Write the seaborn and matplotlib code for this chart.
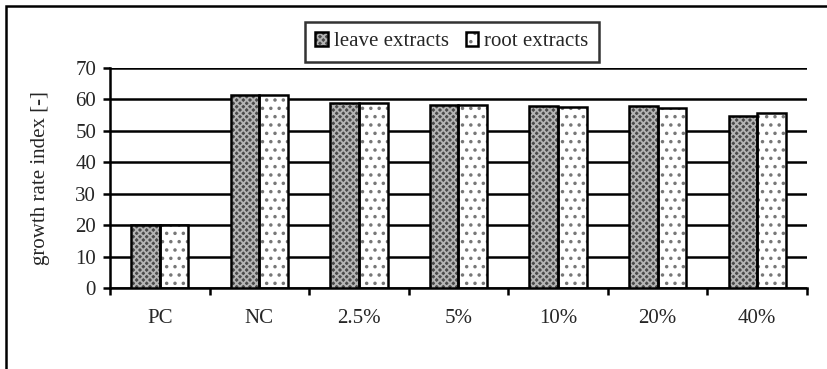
import pandas as pd
import matplotlib.pyplot as plt
import seaborn as sns
from matplotlib.patches import Rectangle, Patch
from matplotlib.legend_handler import HandlerTuple
from matplotlib.ticker import FixedLocator

categories = ["PC", "NC", "2.5%", "5%", "10%", "20%", "40%"]
leave_extracts = [20, 61.5, 59, 58.2, 58, 58, 54.8]
root_extracts = [20, 61.5, 59, 58.2, 57.5, 57.3, 55.8]
series_names = ["leave extracts", "root extracts"]

df = pd.DataFrame({
    "treatment": categories * 2,
    "value": leave_extracts + root_extracts,
    "series": [series_names[0]] * len(categories) + [series_names[1]] * len(categories),
})

sns.set_style("white")
plt.rcParams["font.family"] = ["Liberation Serif", "DejaVu Serif"]
plt.rcParams["font.size"] = 15
plt.rcParams["hatch.linewidth"] = 1.3

fig = plt.figure(figsize=(8.28, 3.69), dpi=100)
ax = fig.add_axes([110 / 828, 1 - 288 / 369, 697 / 828, 220 / 369])

faces = {"leave extracts": "#4a4a4a", "root extracts": "white"}
hatches = {"leave extracts": ("xxxxx", "#b4b4b4"), "root extracts": ("..", "#777777")}

sns.barplot(
    data=df,
    x="treatment",
    y="value",
    hue="series",
    palette=faces,
    width=0.575,
    saturation=1,
    legend=False,
    ax=ax,
)

# hatch overlay + black outline on each bar
for container, name in zip(ax.containers, series_names):
    h, hc = hatches[name]
    for p in container:
        p.set_edgecolor("none")
        xy, w, hgt = p.get_xy(), p.get_width(), p.get_height()
        ax.add_patch(Rectangle(xy, w, hgt, fill=False, hatch=h,
                               edgecolor=hc, linewidth=0, zorder=3))
        ax.add_patch(Rectangle(xy, w, hgt, fill=False, edgecolor="black",
                               linewidth=1.8, zorder=4))

ax.set_ylim(0, 70)
ax.set_xlim(-0.5, len(categories) - 0.5)
ax.set_yticks(range(0, 71, 10))
ax.yaxis.grid(True, color="black", linewidth=1.8)
ax.set_axisbelow(True)

# ticks between categories, labels centered
ax.xaxis.set_major_locator(FixedLocator([i - 0.5 for i in range(len(categories) + 1)]))
ax.xaxis.set_major_formatter(plt.NullFormatter())
ax.xaxis.set_minor_locator(FixedLocator(range(len(categories))))
ax.set_xticklabels(categories, minor=True)
ax.tick_params(axis="x", which="major", direction="out", length=5, width=1.8,
               color="black", bottom=True)
ax.tick_params(axis="x", which="minor", length=0, pad=15, labelsize=15)
ax.tick_params(axis="y", direction="out", length=5, width=1.8, color="black",
               left=True, pad=5, labelsize=15)

for side in ["top", "right"]:
    ax.spines[side].set_visible(False)
for side in ["left", "bottom"]:
    ax.spines[side].set_color("black")
    ax.spines[side].set_linewidth(1.8)

ax.set_xlabel("")
ax.set_ylabel("growth rate index [-]", fontsize=15, labelpad=18)

handles = []
for name in series_names:
    h, hc = hatches[name]
    handles.append((Patch(facecolor=faces[name], hatch=h, edgecolor=hc, linewidth=0),
                    Patch(fill=False, edgecolor="black", linewidth=1.8)))
leg = fig.legend(
    handles, series_names,
    handler_map={tuple: HandlerTuple(ndivide=1)},
    loc="upper center",
    bbox_to_anchor=(452 / 828, 1 - 22 / 369),
    borderaxespad=0,
    ncol=2,
    fontsize=15,
    frameon=True,
    fancybox=False,
    handlelength=0.6,
    handleheight=0.6,
    handletextpad=0.3,
    columnspacing=0.8,
    borderpad=0.5,
)
leg.get_frame().set_edgecolor("black")
leg.get_frame().set_linewidth(1.8)

# outer frame (cut off on the right and bottom)
fig.patches.append(Rectangle((6 / 828, -0.1), 1.2, 1.1 - 6 / 369, fill=False,
                             edgecolor="black", linewidth=1.8,
                             transform=fig.transFigure, figure=fig))

fig.savefig("out.png", dpi=100)
